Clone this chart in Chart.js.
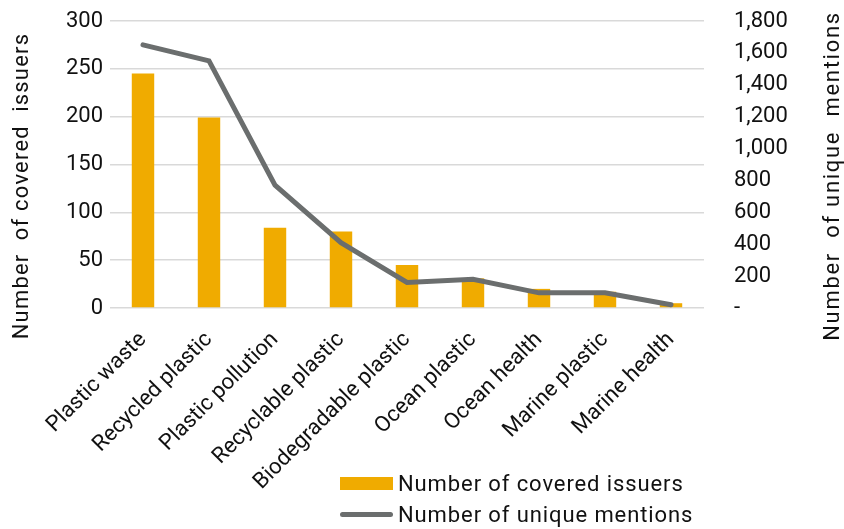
<!DOCTYPE html>
<html>
<head>
<meta charset="utf-8">
<script src="https://cdn.jsdelivr.net/npm/chart.js@4"></script>
<style>
  body { margin: 0; background: #fff; }
  #wrap { position: relative; width: 844px; height: 529px; }
  #legend { position: absolute; left: 340px; top: 468px; font-family: Roboto, sans-serif; font-size: 22px; letter-spacing: 0.9px; color: #111; }
  .item { display: flex; align-items: center; height: 31px; }
  .swatch { width: 53px; margin-right: 5px; }
</style>
</head>
<body>
<div id="wrap">
  <canvas id="chart" width="844" height="529"></canvas>
  <div id="legend">
    <div class="item"><span class="swatch" style="height:13px;background:#f0ab00"></span>Number of covered issuers</div>
    <div class="item"><span class="swatch" style="height:5px;border-radius:3px;background:#6b6e6e"></span>Number of unique mentions</div>
  </div>
</div>
<script>
// Data
const categories = ['Plastic waste', 'Recycled plastic', 'Plastic pollution', 'Recyclable plastic',
    'Biodegradable plastic', 'Ocean plastic', 'Ocean health', 'Marine plastic', 'Marine health'];
const coveredIssuers = [245, 199, 84, 80, 45, 31, 20, 17, 5];
const uniqueMentions = [1650, 1550, 770, 410, 160, 180, 95, 95, 20];
const leftTicks = [0, 50, 100, 150, 200, 250, 300];
const rightTicks = [0, 200, 400, 600, 800, 1000, 1200, 1400, 1600, 1800];
const leftTitle = 'Number  of covered  issuers';
const rightTitle = 'Number  of unique  mentions';

const font = 'Roboto, sans-serif';

// axis titles drawn by hand so the spacing can follow the original
const axisTitles = {
    id: 'axisTitles',
    afterDraw: c => {
        const ctx = c.ctx;
        ctx.save();
        ctx.font = '22px ' + font;
        ctx.fillStyle = '#111';
        ctx.textAlign = 'center';
        ctx.textBaseline = 'middle';
        ctx.letterSpacing = '1.2px';
        ctx.translate(22, 186);
        ctx.rotate(-Math.PI / 2);
        ctx.fillText(leftTitle, 0, 0);
        ctx.restore();
        ctx.save();
        ctx.font = '22px ' + font;
        ctx.fillStyle = '#111';
        ctx.textAlign = 'center';
        ctx.textBaseline = 'middle';
        ctx.letterSpacing = '1.7px';
        ctx.translate(833, 176);
        ctx.rotate(-Math.PI / 2);
        ctx.fillText(rightTitle, 0, 0);
        ctx.restore();
    }
};

const noPad = s => { s.paddingTop = 0; s.paddingBottom = 0; };

new Chart(document.getElementById('chart'), {
    data: {
        labels: categories,
        datasets: [{
            type: 'line',
            label: 'Number of unique mentions',
            data: uniqueMentions,
            yAxisID: 'y2',
            borderColor: '#6b6e6e',
            borderWidth: 5,
            pointRadius: 0,
            tension: 0,
            borderCapStyle: 'round',
            order: 0
        }, {
            type: 'bar',
            label: 'Number of covered issuers',
            data: coveredIssuers,
            yAxisID: 'y',
            backgroundColor: '#f0ab00',
            categoryPercentage: 1,
            barPercentage: 0.34,
            order: 1
        }]
    },
    plugins: [axisTitles],
    options: {
        responsive: false,
        animation: false,
        layout: { padding: { top: 21, left: 0, right: 0, bottom: 0 } },
        plugins: { legend: { display: false }, tooltip: { enabled: false } },
        scales: {
            x: {
                grid: { display: false },
                border: { display: false },
                ticks: { font: { family: font, size: 22 }, color: '#111', maxRotation: 45, minRotation: 45, padding: 11 },
                afterFit: s => { s.height = 221; s.paddingLeft = 0; s.paddingRight = 0; }
            },
            y: {
                position: 'left',
                min: 0, max: 300,
                afterBuildTicks: s => { s.ticks = leftTicks.map(v => ({ value: v })); },
                grid: { color: '#d9d9d9', lineWidth: 1.5, drawTicks: false },
                border: { display: false },
                ticks: { font: { family: font, size: 22 }, color: '#111', padding: 7 },
                afterFit: s => { s.width = 110; noPad(s); }
            },
            y2: {
                position: 'right',
                min: 0, max: 1800,
                afterBuildTicks: s => { s.ticks = rightTicks.map(v => ({ value: v })); },
                grid: { display: false, drawTicks: false },
                border: { display: false },
                ticks: {
                    font: { family: font, size: 22 }, color: '#111', padding: 30,
                    callback: v => v === 0 ? '-' : v.toLocaleString('en-US')
                },
                afterFit: s => { s.width = 140; noPad(s); }
            }
        }
    }
});
</script>
</body>
</html>
